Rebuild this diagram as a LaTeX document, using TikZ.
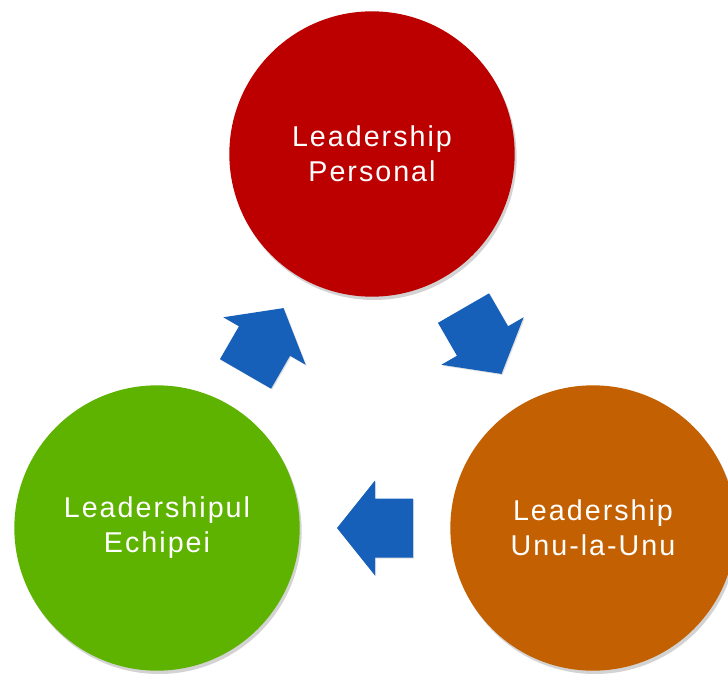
\documentclass[tikz,border=0pt]{standalone}
\usepackage{fontspec}
\setmainfont[LetterSpace=7]{Liberation Sans}
\usepackage{xcolor}
\usetikzlibrary{calc,shadows}

\definecolor{persred}{RGB}{188,0,0}
\definecolor{echgreen}{RGB}{94,178,0}
\definecolor{unuorange}{RGB}{194,96,2}
\definecolor{arrowblue}{RGB}{22,96,186}

\tikzset{
  leadcircle/.style={circle, minimum size=214pt, inner sep=0pt, text=white, align=center,
    font=\fontsize{21.5}{26.3}\selectfont,
    drop shadow={shadow xshift=1.5pt, shadow yshift=-2.5pt, opacity=0.35}},
  blockarrow/.pic={
    \fill[arrowblue, drop shadow={shadow xshift=0.8pt, shadow yshift=-0.8pt, opacity=0.25}]
      (38,0) -- (0,47.5) -- (0,29.5) -- (-38,29.5) -- (-38,-29.5) -- (0,-29.5) -- (0,-47.5) -- cycle;
  }
}

\begin{document}
\begin{tikzpicture}[x=0.75pt,y=0.75pt,yscale=-1]
        %set diagram: 728 wide, 675 high
        \useasboundingbox (0,0) rectangle (728,675);
        
        %Shape: Circle [id:pers]
        \node [leadcircle, fill=persred] (pers) at (372,154) {Leadership\\Personal};
        %Shape: Circle [id:ech]
        \node [leadcircle, fill=echgreen] (ech) at (157,528) {Leadershipul\\Echipei};
        %Shape: Circle [id:unu]
        \node [leadcircle, fill=unuorange] (unu) at (593,528) {Leadership\\Unu-la-Unu};
        
        %Block Arrows
        \pic [rotate=-60] at ($(pers)!0.5!(unu)$) {blockarrow};
        \pic [rotate=180] at ($(unu)!0.5!(ech)$) {blockarrow};
        \pic [rotate=60] at ($(ech)!0.5!(pers)$) {blockarrow};
        
\end{tikzpicture}
\end{document}
